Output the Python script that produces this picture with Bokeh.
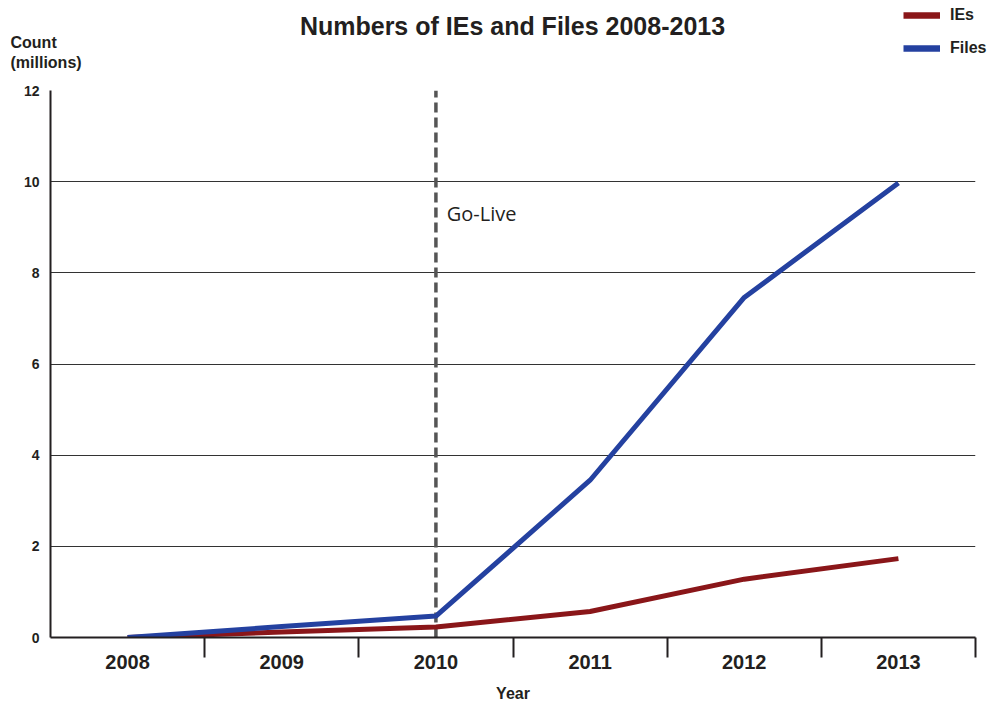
from bokeh.plotting import figure
from bokeh.layouts import column
from bokeh.models import (FixedTicker, Label, Legend, LegendItem, Range1d)
from bokeh.embed import file_html
from bokeh.resources import INLINE

years = ["2008", "2009", "2010", "2011", "2012", "2013"]
ies = [0.0, 0.12, 0.23, 0.57, 1.28, 1.73]
files = [0.0, 0.24, 0.47, 3.45, 7.46, 9.97]
y_ticks = [0, 2, 4, 6, 8, 10, 12]
golive_year = "2010"
series_names = ["IEs", "Files"]

xpos = list(range(len(years)))
NAN = float("nan")

FONT = "Liberation Sans"
TXT = "#231f20"
RED = "#8a1619"
BLUE = "#2441a0"
W = 983
HEAD_W = 991
HEAD_H = 80

# ---------- header: title, y-unit caption, legend ----------
h = figure(width=HEAD_W, height=HEAD_H, output_backend="svg", toolbar_location=None,
           x_range=Range1d(0, HEAD_W), y_range=Range1d(HEAD_H, 0),
           x_axis_location=None, y_axis_location=None,
           min_border=0, min_border_left=0, min_border_right=0,
           min_border_top=0, min_border_bottom=0)
h.frame_align = False
h.outline_line_color = None
h.xgrid.grid_line_color = None
h.ygrid.grid_line_color = None

h.add_layout(Label(x=512, y=25, text="Numbers of IEs and Files 2008-2013",
                   text_font=FONT, text_font_style="bold", text_font_size="25px",
                   text_color=TXT, text_align="center", text_baseline="middle"))
h.add_layout(Label(x=10, y=42, text="Count", text_font=FONT,
                   text_font_style="bold", text_font_size="16px",
                   text_color=TXT, text_baseline="middle"))
h.add_layout(Label(x=10, y=62, text="(millions)", text_font=FONT,
                   text_font_style="bold", text_font_size="16px",
                   text_color=TXT, text_baseline="middle"))

# legend keys (no visible data of their own)
k_ies = h.line(x=[NAN], y=[NAN], line_color=RED, line_width=6.5)
k_files = h.line(x=[NAN], y=[NAN], line_color=BLUE, line_width=6.5)
legend = Legend(items=[LegendItem(label=series_names[0], renderers=[k_ies]),
                       LegendItem(label=series_names[1], renderers=[k_files])],
                location=(903, 22), padding=0, margin=0, spacing=13,
                glyph_width=37, glyph_height=20, label_height=20,
                label_standoff=10,
                border_line_color=None, background_fill_alpha=0,
                label_text_font=FONT, label_text_font_style="bold",
                label_text_font_size="16px", label_text_color=TXT)
h.add_layout(legend, "center")

# ---------- main chart ----------
p = figure(width=W, height=704 - HEAD_H, output_backend="svg", toolbar_location=None,
           x_range=Range1d(-0.5, len(years) - 0.5), y_range=Range1d(0, 12),
           min_border_left=50, min_border_right=8, min_border_top=10,
           min_border_bottom=67)
p.frame_align = False
p.outline_line_color = None

xa = p.xaxis[0]
xa.ticker = FixedTicker(ticks=xpos, minor_ticks=[i + 0.5 for i in xpos])
xa.major_label_overrides = {i: y for i, y in enumerate(years)}
xa.major_tick_out = 0
xa.major_tick_in = 0
xa.minor_tick_out = 20
xa.minor_tick_in = 0
xa.minor_tick_line_color = TXT
xa.minor_tick_line_width = 2
xa.axis_line_color = TXT
xa.axis_line_width = 2
xa.major_label_text_font = FONT
xa.major_label_text_font_style = "bold"
xa.major_label_text_font_size = "20px"
xa.major_label_text_color = TXT
xa.major_label_standoff = -3
xa.axis_label = "Year"
xa.axis_label_text_font = FONT
xa.axis_label_text_font_style = "bold"
xa.axis_label_text_font_size = "16px"
xa.axis_label_text_color = TXT
xa.axis_label_standoff = 13

ya = p.yaxis[0]
ya.ticker = FixedTicker(ticks=y_ticks)
ya.major_tick_out = 0
ya.major_tick_in = 0
ya.minor_tick_line_color = None
ya.axis_line_color = TXT
ya.axis_line_width = 2
ya.major_label_text_font = FONT
ya.major_label_text_font_style = "bold"
ya.major_label_text_font_size = "14px"
ya.major_label_text_color = TXT
ya.major_label_standoff = 11

p.xgrid.grid_line_color = None
p.ygrid.ticker = FixedTicker(ticks=y_ticks)
p.ygrid.grid_line_color = "#333333"
p.ygrid.grid_line_width = 1.2

gi = years.index(golive_year)
p.segment(x0=[gi], y0=[0], x1=[gi], y1=[y_ticks[-1]], line_color="#555555",
          line_width=3.5, line_dash="10 5")
p.add_layout(Label(x=gi + 0.07, y=9.3, text="Go-Live", text_font="Open Sans",
                   text_font_size="20px", text_color=TXT, text_baseline="middle"))

p.line(xpos, ies, line_color=RED, line_width=5)
p.line(xpos, files, line_color=BLUE, line_width=5)

layout = column(h, p, spacing=0)
open("out.html", "w").write(file_html(layout, INLINE))
